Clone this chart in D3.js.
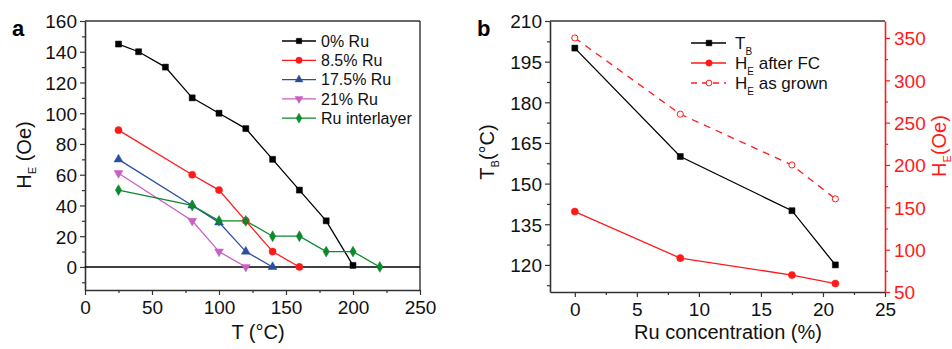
<!DOCTYPE html>
<html><head><meta charset="utf-8">
<script src="https://cdn.jsdelivr.net/npm/d3@7"></script>
<style>
body{margin:0;background:#fff;}
svg{display:block;font-family:"Liberation Sans",Arial,sans-serif;}
</style></head>
<body><svg id="chart" width="952" height="349"></svg>
<script>
// ---------- Panel a data ----------
const aNames = ["0% Ru", "8.5% Ru", "17.5% Ru", "21% Ru", "Ru interlayer"];
const aColors = ["#000000", "#ff1a1a", "#2a4fa0", "#c760c0", "#0a8a2a"];
const aShapes = ["square", "circle", "triangle", "triangleDown", "diamond"];
const ru0T = [25, 40, 60, 80, 100, 120, 140, 160, 180, 200];
const ru0H = [145, 140, 130, 110, 100, 90, 70, 50, 30, 1];
const ru85T = [25, 80, 100, 120, 140, 160];
const ru85H = [89, 60, 50, 30, 10, 0];
const ru175T = [25, 80, 100, 120, 140];
const ru175H = [70, 40, 29, 10, 0];
const ru21T = [25, 80, 100, 120];
const ru21H = [61, 30, 10, 0];
const interT = [25, 80, 100, 120, 140, 160, 180, 200, 220];
const interH = [50, 40, 30, 30, 20, 20, 10, 10, 0];
const aXTicks = [0, 50, 100, 150, 200, 250];
const aYTicks = [0, 20, 40, 60, 80, 100, 120, 140, 160];

// ---------- Panel b data ----------
const ruConc = [0, 8.5, 17.5, 21];
const tB = [200, 160, 140, 120];
const heAfterFC = [145, 90, 70, 60];
const heAsGrown = [350, 260, 200, 160];
const bXTicks = [0, 5, 10, 15, 20, 25];
const bYTicks = [120, 135, 150, 165, 180, 195, 210];
const bY2Ticks = [50, 100, 150, 200, 250, 300, 350];

const svg = d3.select("#chart");
const axisCol = "#333";
const red = "#ff1a1a";
const FS = 19;   // tick labels
const TS = 20;   // axis titles

function symbolFor(shape) {
  const m = {square: d3.symbolSquare, circle: d3.symbolCircle, triangle: d3.symbolTriangle,
    triangleDown: d3.symbolTriangle, diamond: d3.symbolDiamond};
  return m[shape];
}
function drawMarker(g, shape, x, y, color, size, hollow) {
  return g.append("path")
    .attr("d", d3.symbol().type(symbolFor(shape)).size(size)())
    .attr("transform", `translate(${x},${y})` + (shape === "triangleDown" ? " rotate(180)" : ""))
    .attr("fill", hollow ? "#fff" : color)
    .attr("stroke", color).attr("stroke-width", hollow ? 1 : 0.5);
}
function styleAxis(g, col) {
  g.selectAll(".domain").attr("stroke", col).attr("stroke-width", 1.6);
  g.selectAll(".tick line").attr("stroke", col).attr("stroke-width", 1.2);
  g.selectAll(".tick text").attr("fill", col === red ? red : "#111").attr("font-size", FS)
    .attr("font-family", '"Liberation Sans",Arial,sans-serif');
}
function minorAxis(g, axis, col) {
  g.call(axis.tickFormat(""))
   .call(s => { s.select(".domain").remove(); s.selectAll("line").attr("stroke", col).attr("stroke-width", 1.2); });
}

// ================= Panel a =================
const aL = 85, aR = 420, aT = 21, aB = 290;
const xa = d3.scaleLinear().domain([0, 250]).range([aL, aR]);
const ya = d3.scaleLinear().domain([-15, 160]).range([aB, aT]);
const ga = svg.append("g");

ga.append("line").attr("x1", aL).attr("x2", aR).attr("y1", aT).attr("y2", aT).attr("stroke", axisCol).attr("stroke-width", 1.4);
ga.append("line").attr("x1", aR).attr("x2", aR).attr("y1", aT).attr("y2", aB).attr("stroke", axisCol).attr("stroke-width", 1.4);

minorAxis(ga.append("g").attr("transform", `translate(0,${aB})`), d3.axisBottom(xa).tickValues(d3.range(25, 250, 50)).tickSize(3), axisCol);
minorAxis(ga.append("g").attr("transform", `translate(${aL},0)`), d3.axisLeft(ya).tickValues(d3.range(-10, 160, 20)).tickSize(3), axisCol);

const axA = ga.append("g").attr("transform", `translate(0,${aB})`)
  .call(d3.axisBottom(xa).tickValues(aXTicks).tickSize(5).tickSizeOuter(0).tickPadding(6));
styleAxis(axA, axisCol);
const ayA = ga.append("g").attr("transform", `translate(${aL},0)`)
  .call(d3.axisLeft(ya).tickValues(aYTicks).tickSize(5).tickSizeOuter(0).tickPadding(3));
styleAxis(ayA, axisCol);
ayA.selectAll(".tick text").attr("dy", "0.36em");

ga.append("line").attr("x1", xa(0)).attr("x2", xa(250)).attr("y1", ya(0)).attr("y2", ya(0))
  .attr("stroke", "#000").attr("stroke-width", 1.5);

const aSeries = [
  {t: ru0T, h: ru0H}, {t: ru85T, h: ru85H}, {t: ru175T, h: ru175H}, {t: ru21T, h: ru21H}, {t: interT, h: interH}
];
const lineA = d3.line().x(d => xa(d[0])).y(d => ya(d[1]));
const mSizes = {square: 36, circle: 40, triangle: 34, triangleDown: 34, diamond: 34};
aSeries.forEach((s, i) => {
  const pts = s.t.map((t, j) => [t, s.h[j]]);
  ga.append("path").attr("d", lineA(pts)).attr("fill", "none").attr("stroke", aColors[i]).attr("stroke-width", 1.3);
});
aSeries.forEach((s, i) => {
  s.t.forEach((t, j) => drawMarker(ga, aShapes[i], xa(t), ya(s.h[j]), aColors[i], mSizes[aShapes[i]], false));
});

aNames.forEach((n, i) => {
  const y = 41 + i * 19.3;
  ga.append("line").attr("x1", 282).attr("x2", 316).attr("y1", y).attr("y2", y).attr("stroke", aColors[i]).attr("stroke-width", 1.3);
  drawMarker(ga, aShapes[i], 299, y, aColors[i], mSizes[aShapes[i]] * 0.8, false);
  ga.append("text").attr("x", 321).attr("y", y).attr("dy", "0.36em").attr("font-size", 16).attr("fill", "#111").text(n);
});

ga.append("text").attr("x", 258).attr("y", 339).attr("text-anchor", "middle").attr("font-size", TS).attr("fill", "#111").text("T (°C)");
const hlA = ga.append("text").attr("transform", `translate(31,155) rotate(-90)`).attr("text-anchor", "middle").attr("font-size", TS).attr("fill", "#111");
hlA.append("tspan").text("H");
hlA.append("tspan").attr("font-size", 11).attr("dy", 5).text("E");
hlA.append("tspan").attr("dy", -5).text(" (Oe)");
ga.append("text").attr("x", 12).attr("y", 36).attr("font-size", 22).attr("font-weight", "bold").attr("fill", "#000").text("a");

// ================= Panel b =================
const bL = 550, bR = 885, bT = 21, bB = 292;
const xb = d3.scaleLinear().domain([-2, 25]).range([bL, bR]);
const yb = d3.scaleLinear().domain([110, 210]).range([bB, bT]);
const yb2 = d3.scaleLinear().domain([50, 370]).range([bB, bT]);
const gb = svg.append("g");

gb.append("line").attr("x1", bL).attr("x2", bR).attr("y1", bT).attr("y2", bT).attr("stroke", axisCol).attr("stroke-width", 1.4);

minorAxis(gb.append("g").attr("transform", `translate(0,${bB})`), d3.axisBottom(xb).tickValues(d3.range(2.5, 25, 5)).tickSize(3), axisCol);
minorAxis(gb.append("g").attr("transform", `translate(${bL},0)`), d3.axisLeft(yb).tickValues(d3.range(112.5, 210, 15)).tickSize(3), axisCol);
minorAxis(gb.append("g").attr("transform", `translate(${bR},0)`), d3.axisRight(yb2).tickValues(d3.range(75, 370, 50)).tickSize(3), red);

const axB = gb.append("g").attr("transform", `translate(0,${bB})`)
  .call(d3.axisBottom(xb).tickValues(bXTicks).tickSize(5).tickSizeOuter(0).tickPadding(6));
styleAxis(axB, axisCol);
const ayB = gb.append("g").attr("transform", `translate(${bL},0)`)
  .call(d3.axisLeft(yb).tickValues(bYTicks).tickSize(5).tickSizeOuter(0).tickPadding(3));
styleAxis(ayB, axisCol);
ayB.selectAll(".tick text").attr("dy", "0.36em");
const ayB2 = gb.append("g").attr("transform", `translate(${bR},0)`)
  .call(d3.axisRight(yb2).tickValues(bY2Ticks).tickSize(5).tickSizeOuter(0).tickPadding(4));
styleAxis(ayB2, red);
ayB2.selectAll(".tick text").attr("dy", "0.36em");

const lineT = d3.line().x((d, i) => xb(ruConc[i])).y(d => yb(d));
const lineH = d3.line().x((d, i) => xb(ruConc[i])).y(d => yb2(d));
gb.append("path").attr("d", lineH(heAsGrown)).attr("fill", "none").attr("stroke", red).attr("stroke-width", 1.3).attr("stroke-dasharray", "7,6");
gb.append("path").attr("d", lineH(heAfterFC)).attr("fill", "none").attr("stroke", red).attr("stroke-width", 1.3);
gb.append("path").attr("d", lineT(tB)).attr("fill", "none").attr("stroke", "#000").attr("stroke-width", 1.3);
ruConc.forEach((c, i) => {
  drawMarker(gb, "square", xb(c), yb(tB[i]), "#000", 36, false);
  drawMarker(gb, "circle", xb(c), yb2(heAfterFC[i]), red, 40, false);
  drawMarker(gb, "circle", xb(c), yb2(heAsGrown[i]), red, 30, true);
});

const bLeg = [
  {main: "T", sub: "B", rest: "", col: "#000", shape: "square", hollow: false, dash: null},
  {main: "H", sub: "E", rest: " after FC", col: red, shape: "circle", hollow: false, dash: null},
  {main: "H", sub: "E", rest: " as grown", col: red, shape: "circle", hollow: true, dash: "6,5"}
];
bLeg.forEach((d, i) => {
  const y = 43 + i * 20;
  gb.append("line").attr("x1", 691).attr("x2", 726).attr("y1", y).attr("y2", y).attr("stroke", d.col).attr("stroke-width", 1.3)
    .attr("stroke-dasharray", d.dash);
  drawMarker(gb, d.shape, 709, y, d.col, d.hollow ? 26 : 32, d.hollow);
  const t = gb.append("text").attr("x", 735).attr("y", y).attr("dy", "0.36em").attr("font-size", 17).attr("fill", "#111");
  t.append("tspan").text(d.main);
  t.append("tspan").attr("font-size", 10).attr("dy", 6).text(d.sub);
  if (d.rest) t.append("tspan").attr("dy", -6).text(d.rest);
});

gb.append("text").attr("x", 728).attr("y", 339).attr("text-anchor", "middle").attr("font-size", TS).attr("fill", "#111").text("Ru concentration (%)");
const tl = gb.append("text").attr("transform", `translate(494,152) rotate(-90)`).attr("text-anchor", "middle").attr("font-size", TS).attr("fill", "#111");
tl.append("tspan").text("T");
tl.append("tspan").attr("font-size", 11).attr("dy", 5).text("B");
tl.append("tspan").attr("dy", -5).text("(°C)");
const hr = gb.append("text").attr("transform", `translate(946,146) rotate(-90)`).attr("text-anchor", "middle").attr("font-size", TS).attr("fill", red);
hr.append("tspan").text("H");
hr.append("tspan").attr("font-size", 11).attr("dy", 5).text("E");
hr.append("tspan").attr("dy", -5).text("(Oe)");
gb.append("text").attr("x", 477).attr("y", 36).attr("font-size", 22).attr("font-weight", "bold").attr("fill", "#000").text("b");
</script></body></html>
